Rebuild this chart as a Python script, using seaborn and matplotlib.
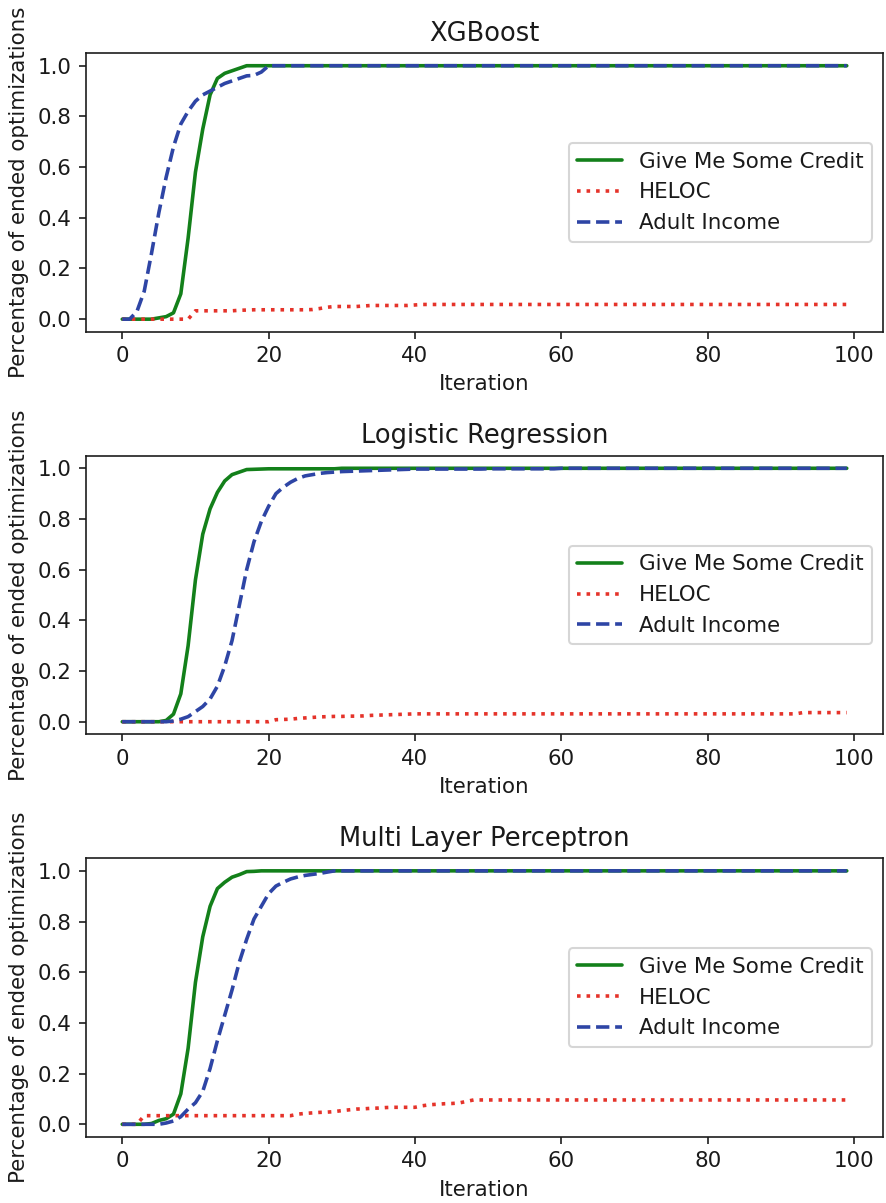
import numpy as np
import pandas as pd
import matplotlib
matplotlib.use("Agg")
import matplotlib.pyplot as plt
import seaborn as sns

iterations = list(range(100))

titles = ["XGBoost", "Logistic Regression", "Multi Layer Perceptron"]
series_names = ["Give Me Some Credit", "HELOC", "Adult Income"]
xlabel = "Iteration"
ylabel = "Percentage of ended optimizations"

# ---- XGBoost ----
xgb_gmsc = [0, 0, 0, 0, 0, 0.005, 0.01, 0.025, 0.1, 0.32,
            0.58, 0.75, 0.885, 0.95, 0.97, 0.98, 0.99, 1.0, 1.0, 1.0,
            1.0, 1.0, 1.0, 1.0, 1.0, 1.0, 1.0, 1.0, 1.0, 1.0,
            1.0, 1.0, 1.0, 1.0, 1.0, 1.0, 1.0, 1.0, 1.0, 1.0,
            1.0, 1.0, 1.0, 1.0, 1.0, 1.0, 1.0, 1.0, 1.0, 1.0,
            1.0, 1.0, 1.0, 1.0, 1.0, 1.0, 1.0, 1.0, 1.0, 1.0,
            1.0, 1.0, 1.0, 1.0, 1.0, 1.0, 1.0, 1.0, 1.0, 1.0,
            1.0, 1.0, 1.0, 1.0, 1.0, 1.0, 1.0, 1.0, 1.0, 1.0,
            1.0, 1.0, 1.0, 1.0, 1.0, 1.0, 1.0, 1.0, 1.0, 1.0,
            1.0, 1.0, 1.0, 1.0, 1.0, 1.0, 1.0, 1.0, 1.0, 1.0]
xgb_heloc = [0, 0, 0, 0, 0, 0, 0, 0, 0, 0,
             0.033, 0.033, 0.033, 0.033, 0.033, 0.033, 0.035, 0.036, 0.037, 0.037,
             0.037, 0.037, 0.037, 0.037, 0.037, 0.037, 0.038, 0.042, 0.047, 0.05,
             0.05, 0.05, 0.05, 0.052, 0.054, 0.054, 0.054, 0.054, 0.054, 0.054,
             0.056, 0.058, 0.058, 0.058, 0.058, 0.058, 0.058, 0.058, 0.058, 0.058,
             0.058, 0.058, 0.058, 0.058, 0.058, 0.058, 0.058, 0.058, 0.058, 0.058,
             0.058, 0.058, 0.058, 0.058, 0.058, 0.058, 0.058, 0.058, 0.058, 0.058,
             0.058, 0.058, 0.058, 0.058, 0.058, 0.058, 0.058, 0.058, 0.058, 0.058,
             0.058, 0.058, 0.058, 0.058, 0.058, 0.058, 0.058, 0.058, 0.058, 0.058,
             0.058, 0.058, 0.058, 0.058, 0.058, 0.058, 0.058, 0.058, 0.058, 0.058]
xgb_adult = [0, 0.0, 0.03, 0.11, 0.26, 0.42, 0.56, 0.68, 0.77, 0.82,
             0.86, 0.885, 0.9, 0.915, 0.93, 0.94, 0.95, 0.96, 0.962, 0.975,
             1.0, 1.0, 1.0, 1.0, 1.0, 1.0, 1.0, 1.0, 1.0, 1.0,
             1.0, 1.0, 1.0, 1.0, 1.0, 1.0, 1.0, 1.0, 1.0, 1.0,
             1.0, 1.0, 1.0, 1.0, 1.0, 1.0, 1.0, 1.0, 1.0, 1.0,
             1.0, 1.0, 1.0, 1.0, 1.0, 1.0, 1.0, 1.0, 1.0, 1.0,
             1.0, 1.0, 1.0, 1.0, 1.0, 1.0, 1.0, 1.0, 1.0, 1.0,
             1.0, 1.0, 1.0, 1.0, 1.0, 1.0, 1.0, 1.0, 1.0, 1.0,
             1.0, 1.0, 1.0, 1.0, 1.0, 1.0, 1.0, 1.0, 1.0, 1.0,
             1.0, 1.0, 1.0, 1.0, 1.0, 1.0, 1.0, 1.0, 1.0, 1.0]

# ---- Logistic Regression ----
lr_gmsc = [0, 0, 0, 0, 0, 0, 0.005, 0.03, 0.11, 0.3,
           0.56, 0.74, 0.84, 0.905, 0.95, 0.975, 0.985, 0.995, 0.996, 0.997,
           0.998, 0.998, 0.998, 0.998, 0.998, 0.998, 0.998, 0.998, 0.998, 0.998,
           1.0, 1.0, 1.0, 1.0, 1.0, 1.0, 1.0, 1.0, 1.0, 1.0,
           1.0, 1.0, 1.0, 1.0, 1.0, 1.0, 1.0, 1.0, 1.0, 1.0,
           1.0, 1.0, 1.0, 1.0, 1.0, 1.0, 1.0, 1.0, 1.0, 1.0,
           1.0, 1.0, 1.0, 1.0, 1.0, 1.0, 1.0, 1.0, 1.0, 1.0,
           1.0, 1.0, 1.0, 1.0, 1.0, 1.0, 1.0, 1.0, 1.0, 1.0,
           1.0, 1.0, 1.0, 1.0, 1.0, 1.0, 1.0, 1.0, 1.0, 1.0,
           1.0, 1.0, 1.0, 1.0, 1.0, 1.0, 1.0, 1.0, 1.0, 1.0]
lr_heloc = [0, 0, 0, 0, 0, 0, 0, 0, 0, 0,
            0, 0, 0, 0, 0, 0, 0, 0, 0, 0,
            0, 0.008, 0.009, 0.01, 0.013, 0.015, 0.017, 0.019, 0.02, 0.021,
            0.021, 0.022, 0.022, 0.023, 0.025, 0.026, 0.027, 0.028, 0.029, 0.03,
            0.031, 0.031, 0.031, 0.031, 0.031, 0.031, 0.031, 0.031, 0.031, 0.031,
            0.031, 0.031, 0.031, 0.031, 0.031, 0.031, 0.031, 0.031, 0.031, 0.031,
            0.031, 0.031, 0.031, 0.031, 0.031, 0.031, 0.031, 0.031, 0.031, 0.031,
            0.031, 0.031, 0.031, 0.031, 0.031, 0.031, 0.031, 0.031, 0.031, 0.031,
            0.031, 0.031, 0.031, 0.031, 0.031, 0.031, 0.031, 0.031, 0.031, 0.031,
            0.031, 0.031, 0.031, 0.036, 0.036, 0.036, 0.036, 0.036, 0.036, 0.036]
lr_adult = [0, 0, 0, 0, 0, 0, 0, 0.003, 0.01, 0.02,
            0.04, 0.06, 0.09, 0.14, 0.22, 0.32, 0.46, 0.6, 0.71, 0.79,
            0.85, 0.9, 0.925, 0.945, 0.96, 0.97, 0.975, 0.98, 0.983, 0.985,
            0.987, 0.988, 0.989, 0.99, 0.991, 0.992, 0.993, 0.994, 0.995, 0.996,
            0.997, 0.997, 0.997, 0.997, 0.997, 0.997, 0.997, 0.997, 0.997, 0.997,
            0.998, 0.998, 0.998, 0.998, 0.998, 0.998, 0.998, 0.998, 0.998, 0.998,
            1.0, 1.0, 1.0, 1.0, 1.0, 1.0, 1.0, 1.0, 1.0, 1.0,
            1.0, 1.0, 1.0, 1.0, 1.0, 1.0, 1.0, 1.0, 1.0, 1.0,
            1.0, 1.0, 1.0, 1.0, 1.0, 1.0, 1.0, 1.0, 1.0, 1.0,
            1.0, 1.0, 1.0, 1.0, 1.0, 1.0, 1.0, 1.0, 1.0, 1.0]

# ---- Multi Layer Perceptron ----
mlp_gmsc = [0, 0, 0, 0, 0.003, 0.015, 0.022, 0.04, 0.12, 0.3,
            0.56, 0.74, 0.86, 0.93, 0.955, 0.975, 0.985, 0.997, 0.998, 1.0,
            1.0, 1.0, 1.0, 1.0, 1.0, 1.0, 1.0, 1.0, 1.0, 1.0,
            1.0, 1.0, 1.0, 1.0, 1.0, 1.0, 1.0, 1.0, 1.0, 1.0,
            1.0, 1.0, 1.0, 1.0, 1.0, 1.0, 1.0, 1.0, 1.0, 1.0,
            1.0, 1.0, 1.0, 1.0, 1.0, 1.0, 1.0, 1.0, 1.0, 1.0,
            1.0, 1.0, 1.0, 1.0, 1.0, 1.0, 1.0, 1.0, 1.0, 1.0,
            1.0, 1.0, 1.0, 1.0, 1.0, 1.0, 1.0, 1.0, 1.0, 1.0,
            1.0, 1.0, 1.0, 1.0, 1.0, 1.0, 1.0, 1.0, 1.0, 1.0,
            1.0, 1.0, 1.0, 1.0, 1.0, 1.0, 1.0, 1.0, 1.0, 1.0]
mlp_heloc = [0, 0, 0, 0.034, 0.034, 0.034, 0.034, 0.034, 0.034, 0.034,
             0.034, 0.034, 0.034, 0.034, 0.034, 0.034, 0.034, 0.034, 0.034, 0.034,
             0.034, 0.034, 0.034, 0.034, 0.04, 0.043, 0.045, 0.047, 0.048, 0.05,
             0.054, 0.057, 0.06, 0.061, 0.063, 0.064, 0.066, 0.067, 0.067, 0.067,
             0.067, 0.073, 0.077, 0.079, 0.081, 0.082, 0.084, 0.09, 0.096, 0.096,
             0.096, 0.096, 0.096, 0.096, 0.096, 0.096, 0.096, 0.096, 0.096, 0.096,
             0.096, 0.096, 0.096, 0.096, 0.096, 0.096, 0.096, 0.096, 0.096, 0.096,
             0.096, 0.096, 0.096, 0.096, 0.096, 0.096, 0.096, 0.096, 0.096, 0.096,
             0.096, 0.096, 0.096, 0.096, 0.096, 0.096, 0.096, 0.096, 0.096, 0.096,
             0.096, 0.096, 0.096, 0.096, 0.096, 0.096, 0.096, 0.096, 0.096, 0.096]
mlp_adult = [0, 0, 0, 0, 0, 0, 0.005, 0.013, 0.03, 0.06,
             0.085, 0.13, 0.22, 0.33, 0.43, 0.53, 0.64, 0.73, 0.81, 0.86,
             0.91, 0.94, 0.955, 0.968, 0.976, 0.982, 0.986, 0.99, 0.995, 1.0,
             1.0, 1.0, 1.0, 1.0, 1.0, 1.0, 1.0, 1.0, 1.0, 1.0,
             1.0, 1.0, 1.0, 1.0, 1.0, 1.0, 1.0, 1.0, 1.0, 1.0,
             1.0, 1.0, 1.0, 1.0, 1.0, 1.0, 1.0, 1.0, 1.0, 1.0,
             1.0, 1.0, 1.0, 1.0, 1.0, 1.0, 1.0, 1.0, 1.0, 1.0,
             1.0, 1.0, 1.0, 1.0, 1.0, 1.0, 1.0, 1.0, 1.0, 1.0,
             1.0, 1.0, 1.0, 1.0, 1.0, 1.0, 1.0, 1.0, 1.0, 1.0,
             1.0, 1.0, 1.0, 1.0, 1.0, 1.0, 1.0, 1.0, 1.0, 1.0]

panels = [
    (xgb_gmsc, xgb_heloc, xgb_adult),
    (lr_gmsc, lr_heloc, lr_adult),
    (mlp_gmsc, mlp_heloc, mlp_adult),
]

colors = ["#13801a", "#e5332a", "#2e45a5"]
styles = ["-", ":", "--"]

sns.set_style("ticks")
plt.rcParams["font.family"] = ["DejaVu Sans"]
plt.rcParams["text.color"] = "#1a1a1a"
plt.rcParams["axes.labelcolor"] = "#1a1a1a"
plt.rcParams["xtick.color"] = "#1a1a1a"
plt.rcParams["ytick.color"] = "#1a1a1a"
plt.rcParams["axes.edgecolor"] = "#1a1a1a"

DPI = 148
fig, axes = plt.subplots(3, 1, figsize=(886 / DPI, 1203 / DPI), dpi=DPI)
fig.subplots_adjust(left=0.0971, right=0.9966, top=0.9559, bottom=0.0549, hspace=0.444)

for ax, title, data in zip(axes, titles, panels):
    for name, vals, c, ls in zip(series_names, data, colors, styles):
        df = pd.DataFrame({"it": iterations, "val": vals})
        sns.lineplot(data=df, x="it", y="val", ax=ax, color=c, linestyle=ls,
                     linewidth=1.75, label=name)
    ax.set_title(title, fontsize=12.5)
    ax.set_xlabel(xlabel, fontsize=10.4)
    ax.set_ylabel(ylabel, fontsize=10.4)
    ax.set_xticks([0, 20, 40, 60, 80, 100])
    ax.set_yticks([0.0, 0.2, 0.4, 0.6, 0.8, 1.0])
    ax.tick_params(labelsize=10.4, length=3.5)
    ax.legend(loc="center right", fontsize=10.4, handlelength=2.1)

fig.savefig("out.png", dpi=DPI)
